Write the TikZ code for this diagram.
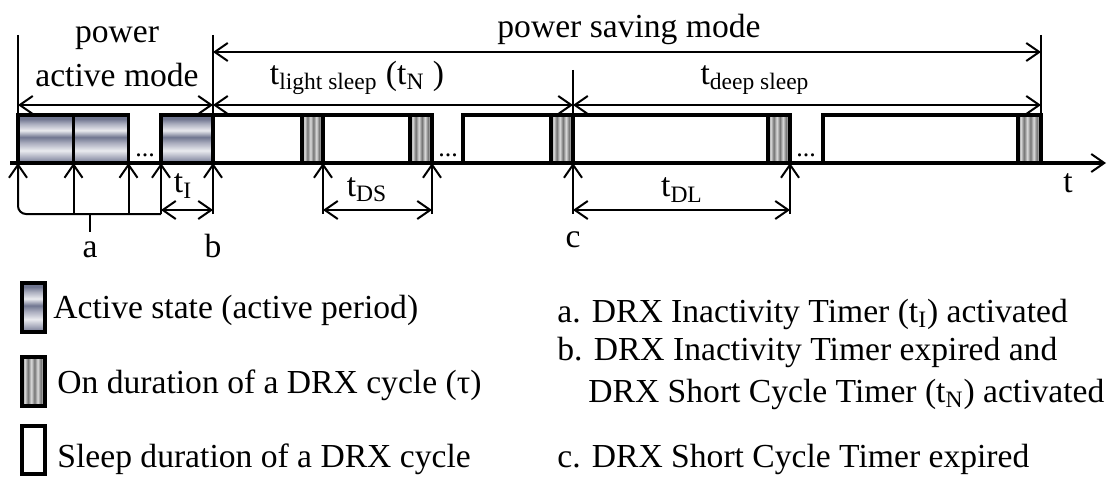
\documentclass[tikz,border=0pt]{standalone}
\usepackage{fontspec}
\setmainfont{Liberation Serif}
\usetikzlibrary{arrows.meta}

\definecolor{actdark}{RGB}{112,118,144}
\definecolor{actmid}{RGB}{170,173,190}
\definecolor{actlight}{RGB}{234,235,239}
\definecolor{ondark}{RGB}{115,115,115}
\definecolor{onlight}{RGB}{220,220,220}

% banded fill of the active periods
\pgfdeclareverticalshading{activeshade}{100bp}{color(0bp)=(actdark); color(25bp)=(actdark);
  color(31bp)=(actmid); color(38bp)=(actlight); color(46bp)=(actmid); color(52bp)=(actdark);
  color(59bp)=(actlight); color(66bp)=(actmid); color(71bp)=(actdark); color(100bp)=(actdark)}
% striped fill of the on durations
\pgfdeclarehorizontalshading{onshade}{100bp}{color(0bp)=(ondark); color(25bp)=(ondark);
  color(31bp)=(onlight); color(38bp)=(ondark); color(45bp)=(onlight); color(52bp)=(ondark);
  color(59bp)=(onlight); color(66bp)=(ondark); color(72bp)=(onlight); color(100bp)=(onlight)}

\begin{document}
\begin{tikzpicture}[
    x=0.5pt, y=-0.5pt,
    font=\fontsize{16.8}{20}\selectfont,
    box/.style={line width=1.6pt},
    axis/.style={line width=1.6pt, -{Straight Barb[length=6.5pt,width=9pt,line width=1pt]}},
    guide/.style={line width=1pt},
    dim/.style={line width=1pt, {Straight Barb[length=6.5pt,width=9pt]}-{Straight Barb[length=6.5pt,width=9pt]}},
    uparrow/.style={line width=1pt, -{Straight Barb[length=6.5pt,width=9pt]}},
    lbl/.style={inner sep=0pt},
    dots/.style={font=\fontsize{13}{13}\selectfont, inner sep=0pt}
]
\useasboundingbox (0,0) rectangle (1111,476);

% reference heights
\coordinate (top) at (0,35);
\coordinate (modeln) at (0,52);
\coordinate (cmark) at (0,70);
\coordinate (dimln) at (0,105);
\coordinate (boxtop) at (0,115);
\coordinate (lowdim) at (0,210);
\coordinate (low) at (0,214);

% instants on the time axis
\coordinate (a1) at (18,163);
\coordinate (a2) at (73.5,163);
\coordinate (a3) at (128.5,163);
\coordinate (a4) at (161,163);
\coordinate (b) at (213,163);
\coordinate (s1) at (323,163);
\coordinate (s2) at (432,163);
\coordinate (c) at (573,163);
\coordinate (d1) at (790,163);
\coordinate (e) at (1041,163);

% active periods
\shade[shading=activeshade] (a1 |- boxtop) rectangle (a3);
\shade[shading=activeshade] (a4 |- boxtop) rectangle (b);
\draw[box] (a1 |- boxtop) rectangle (a3);
\draw[box] (a2 |- boxtop) -- (a2);
\draw[box] (a4 |- boxtop) rectangle (b);

% DRX cycles: sleep outlines, then on durations
\foreach \xa/\xb in {213/432, 463/573, 573/790, 823/1041} {
    \draw[box] (\xa,115) rectangle (\xb,163);
}
\foreach \xa/\xb in {302/323, 410/432, 551/573, 768/790, 1018/1041} {
    \shade[shading=onshade] (\xa,115) rectangle (\xb,163);
    \draw[box] (\xa,115) rectangle (\xb,163);
}
\foreach \x in {145,448,806} {
    \node[dots] (dots\x) at (\x,155) {...};
}

% time axis
\coordinate (tstart) at (10,163);
\coordinate (tend) at (1106,163);
\draw[axis] (tstart) -- (tend);
\node[lbl] (tlbl) at (1068,183) {t};

% modes
\draw[guide] (a1 |- top) -- (a1 |- boxtop);
\draw[guide] (b |- top) -- (b);
\draw[guide] (e |- top) -- (e);
\draw[guide] (c |- cmark) -- (c);
\draw[dim] (a1 |- dimln) -- (b |- dimln);
\draw[dim] (b |- modeln) -- (e |- modeln);
\draw[dim] (b |- dimln) -- (c |- dimln);
\draw[dim] (c |- dimln) -- (e |- dimln);
\node[lbl, anchor=base] (pw1) at (117,43) {power};
\node[lbl, anchor=base] (pw2) at (117,87) {active mode};
\node[lbl, anchor=base] (psm) at (629,38) {power saving mode};
\node[lbl, anchor=base] (tls) at (357,84) {t\textsubscript{light sleep} (t\textsubscript{N} )};
\node[lbl, anchor=base] (tds) at (755,84) {t\textsubscript{deep sleep}};

% timer events below the axis
\draw[uparrow, rounded corners=4pt] (a4 |- low) -- (a1 |- low) -- (a1);
\draw[uparrow] (a2 |- low) -- (a2);
\draw[uparrow] (a3 |- low) -- (a3);
\draw[uparrow] (a4 |- low) -- (a4);
\coordinate (astem) at (90,214);
\coordinate (aend) at (90,232);
\draw[guide] (astem) -- (aend);
\node[lbl] (alb) at (90,250) {a};

\draw[uparrow] (b |- low) -- (b);
\draw[dim] (a4 |- lowdim) -- (b |- lowdim);
\node[lbl] (tI) at (183,186) {t\textsubscript{I}};
\node[lbl] (blb) at (213,246) {b};

\draw[uparrow] (s1 |- low) -- (s1);
\draw[uparrow] (s2 |- low) -- (s2);
\draw[dim] (s1 |- lowdim) -- (s2 |- lowdim);
\node[lbl] (tDS) at (367,190) {t\textsubscript{DS}};

\draw[uparrow] (c |- low) -- (c);
\draw[uparrow] (d1 |- low) -- (d1);
\draw[dim] (c |- lowdim) -- (d1 |- lowdim);
\node[lbl] (tDL) at (682,190) {t\textsubscript{DL}};
\node[lbl] (clb) at (573,240) {c};

% legend
\shade[shading=activeshade] (22,283) rectangle (45,332);
\draw[box] (22,283) rectangle (45,332);
\shade[shading=onshade] (22,357) rectangle (45,406);
\draw[box] (22,357) rectangle (45,406);
\draw[box] (22,426) rectangle (45,474);
\node[lbl, anchor=base west] (lg1) at (53,318) {Active state (active period)};
\node[lbl, anchor=base west] (lg2) at (57,393) {On duration of a DRX cycle (τ)};
\node[lbl, anchor=base west] (lg3) at (57,467) {Sleep duration of a DRX cycle};

\node[lbl, anchor=base west] (ev1) at (557,322) {a. DRX Inactivity Timer (t\textsubscript{I}) activated};
\node[lbl, anchor=base west] (ev2) at (557,360) {b. DRX Inactivity Timer expired and};
\node[lbl, anchor=base west] (ev3) at (588,402) {DRX Short Cycle Timer (t\textsubscript{N}) activated};
\node[lbl, anchor=base west] (ev4) at (557,467) {c. DRX Short Cycle Timer expired};

\end{tikzpicture}
\end{document}
